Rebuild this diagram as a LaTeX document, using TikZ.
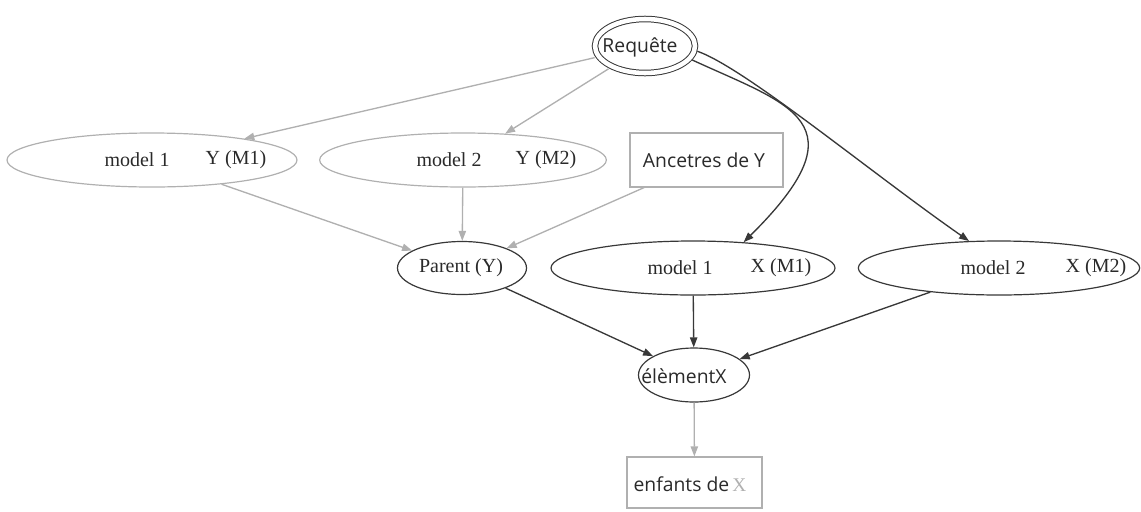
\documentclass[tikz,border=0pt]{standalone}
\usepackage{fontspec}
\setmainfont{Liberation Serif}
\newfontfamily\labelsans{Open Sans}
\usetikzlibrary{arrows.meta,shapes.geometric}

\definecolor{edgegray}{HTML}{B0B0B0}
\definecolor{edgedark}{HTML}{383838}
\definecolor{inkdark}{HTML}{2A2A2A}

\begin{document}
\begin{tikzpicture}[x=0.75pt,y=-0.75pt,
  ovalbox/.style={ellipse,draw=edgedark,line width=0.9pt,inner sep=0pt},
  ovalgray/.style={ellipse,draw=edgegray,line width=0.9pt,inner sep=0pt},
  rectgray/.style={rectangle,draw=edgegray,line width=0.9pt,inner sep=0pt},
  serif/.style={font=\fontsize{15}{18}\selectfont,text=inkdark,inner sep=0pt},
  sans/.style={font=\labelsans\fontsize{14.5}{17}\selectfont,text=inkdark,inner sep=0pt},
  tip/.style={-{Triangle[length=7.5pt,width=5.5pt]}},
  grayedge/.style={tip,draw=edgegray,line width=1pt},
  darkedge/.style={tip,draw=edgedark,line width=1pt}]
\useasboundingbox (0,0) rectangle (1141,511);

% nodes
\node[ellipse,draw=edgedark,line width=0.75pt,double,double distance=3.4pt,
      minimum width=75pt,minimum height=40.5pt] (req) at (645,46) {};
\node[ovalgray,minimum width=217.5pt,minimum height=40.5pt] (m1y) at (152,160) {};
\node[ovalgray,minimum width=215pt,minimum height=40.5pt] (m2y) at (463,160) {};
\node[rectgray,minimum width=114.75pt,minimum height=40.5pt] (anc) at (706.5,160) {};
\node[ovalbox,minimum width=96.75pt,minimum height=39.75pt] (par) at (462,268) {};
\node[ovalbox,minimum width=213pt,minimum height=40.5pt] (m1x) at (693,268) {};
\node[ovalbox,minimum width=211pt,minimum height=40.5pt] (m2x) at (999,268) {};
\node[ovalbox,minimum width=83.25pt,minimum height=40.5pt] (el) at (694,375) {};
\node[rectgray,minimum width=101.25pt,minimum height=38.25pt] (enf) at (694.5,482.5) {};

% labels
\node[sans] (req-t) at (640,47) {Requête};
\node[serif] (m1y-a) at (137,160) {model 1};
\node[serif] (m1y-b) at (236,160) {Y (M1)};
\node[serif] (m2y-a) at (449,160) {model 2};
\node[serif] (m2y-b) at (546,160) {Y (M2)};
\node[sans] (anc-t) at (704,160) {Ancetres de Y};
\node[serif] (par-t) at (461,268) {Parent (Y)};
\node[serif] (m1x-a) at (680,268) {model 1};
\node[serif] (m1x-b) at (781,268) {X (M1)};
\node[serif] (m2x-a) at (993,268) {model 2};
\node[serif] (m2x-b) at (1096,268) {X (M2)};
\node[sans] (el-t) at (684,376) {élèmentX};
\node[sans] (enf-t) at (690,484) {enfants de\,{\rmfamily\color{edgegray}X}};

% connectors
\draw[grayedge,shorten <=3pt] (req) -- (m1y);
\draw[grayedge,shorten <=3pt] (req) -- (m2y);
\draw[darkedge,shorten <=2pt] (req.-16) .. controls (790,105) and (865,122) .. (m1x.27);
\draw[darkedge,shorten <=2pt] (req.-5) .. controls (745,68) and (870,172) .. (m2x.138);
\draw[grayedge] (m1y) -- (par);
\draw[grayedge] (m2y) -- (par);
\draw[grayedge] (anc) -- (par);
\draw[darkedge] (par) -- (el);
\draw[darkedge] (m1x) -- (el);
\draw[darkedge] (m2x) -- (el);
\draw[grayedge] (el) -- (enf);
\end{tikzpicture}
\end{document}
